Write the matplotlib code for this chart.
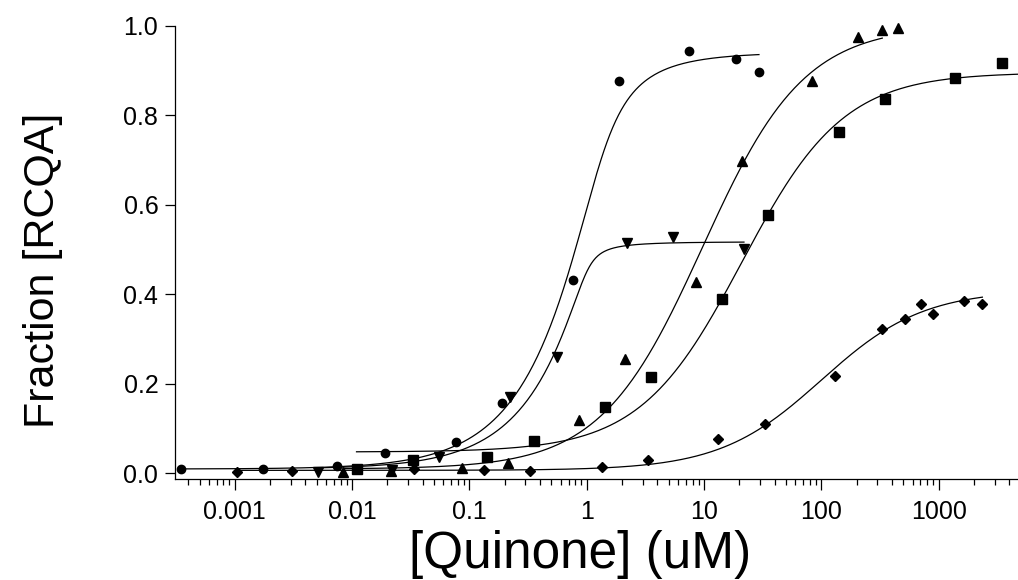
import numpy as np
import matplotlib.pyplot as plt
from matplotlib.ticker import FixedLocator, FixedFormatter, LogLocator, NullFormatter

plt.rcParams['font.family'] = ['Liberation Sans', 'DejaVu Sans']

# measured points, quinone concentration in uM
circle_x = [0.00035, 0.00175, 0.0075, 0.0191, 0.0764, 0.19, 0.76, 1.88, 7.5, 18.6, 29.4]
circle_y = [0.010, 0.011, 0.017, 0.046, 0.071, 0.158, 0.433, 0.877, 0.944, 0.925, 0.897]

down_x = [0.00515, 0.0218, 0.0554, 0.222, 0.555, 2.19, 5.47, 21.9]
down_y = [0.004, 0.008, 0.036, 0.171, 0.259, 0.515, 0.529, 0.500]

up_x = [0.0084, 0.0215, 0.0859, 0.215, 0.86, 2.12, 8.5, 20.9, 83.8, 207, 331, 454]
up_y = [0.003, 0.006, 0.012, 0.023, 0.119, 0.255, 0.428, 0.698, 0.876, 0.974, 0.990, 0.994]

square_x = [0.0109, 0.0329, 0.140, 0.356, 1.43, 3.53, 14.2, 34.9, 141.6, 349, 1380, 3450]
square_y = [0.009, 0.030, 0.036, 0.073, 0.148, 0.216, 0.389, 0.578, 0.763, 0.835, 0.882, 0.917]

diamond_x = [0.00104, 0.0031, 0.0337, 0.134, 0.329, 1.34, 3.35, 13.2, 33.1, 131, 327, 517, 713, 902, 1648, 2360]
diamond_y = [0.004, 0.006, 0.009, 0.008, 0.006, 0.015, 0.030, 0.076, 0.110, 0.218, 0.322, 0.345, 0.378, 0.356, 0.386, 0.378]

# fit parameters: bottom, amplitude, total RC (uM), Kd (uM), x range of the drawn fit
fit_bottom = [0.010, 0.010, 0.010, 0.048, 0.007]
fit_amp = [0.93, 0.507, 0.99, 0.847, 0.403]
fit_total = [1.2, 1.0, 0.0, 0.0, 0.0]
fit_kd = [0.15, 0.02, 9.7, 21.0, 100.0]
fit_start = [0.00035, 0.00515, 0.0084, 0.0109, 0.00104]
fit_end = [29.4, 21.9, 331, 4750, 2360]

tick_vals = [0.001, 0.01, 0.1, 1, 10, 100, 1000]
tick_text = ['0.001', '0.01', '0.1', '1', '10', '100', '1000']


def bound_fraction(conc, total, kd):
    # quadratic (tight binding) isotherm, hyperbolic when total = 0
    s = total + conc + kd
    return 2 * conc / (s + np.sqrt(s ** 2 - 4 * total * conc))


fig = plt.figure(figsize=(10.18, 5.8), dpi=100)
ax = fig.add_axes([175 / 1018, 101 / 580, 843 / 1018, 453.5 / 580])

for i in range(5):
    xs = np.logspace(np.log10(fit_start[i]), np.log10(fit_end[i]), 400)
    ys = fit_bottom[i] + fit_amp[i] * bound_fraction(xs, fit_total[i], fit_kd[i])
    ax.plot(xs, ys, color='black', lw=0.9, clip_on=False)

mk = dict(color='black', ls='none', clip_on=False, zorder=3)
ax.plot(circle_x, circle_y, marker='o', ms=6.0, **mk)
ax.plot(down_x, down_y, marker='v', ms=6.5, **mk)
ax.plot(up_x, up_y, marker='^', ms=6.5, **mk)
ax.plot(square_x, square_y, marker='s', ms=6.5, **mk)
ax.plot(diamond_x, diamond_y, marker='D', ms=5.0, **mk)

ax.set_xscale('log')
ax.set_xlim(3.09e-4, 4750)
ax.set_ylim(-0.0123, 1.0)

ax.xaxis.set_major_locator(FixedLocator(tick_vals))
ax.xaxis.set_major_formatter(FixedFormatter(tick_text))
ax.xaxis.set_minor_locator(LogLocator(base=10, subs=np.arange(2, 10), numticks=20))
ax.xaxis.set_minor_formatter(NullFormatter())
ax.set_yticks([0.0, 0.2, 0.4, 0.6, 0.8, 1.0])
ax.set_yticklabels(['0.0', '0.2', '0.4', '0.6', '0.8', '1.0'])

for s in ['top', 'right']:
    ax.spines[s].set_visible(False)
for s in ['left', 'bottom']:
    ax.spines[s].set_linewidth(0.9)

ax.tick_params(axis='x', which='major', length=8, width=0.9, labelsize=18, pad=7)
ax.tick_params(axis='x', which='minor', length=4.3, width=0.9)
ax.tick_params(axis='y', which='major', length=7, width=0.9, labelsize=18, pad=5)

ax.set_xlabel('[Quinone] (uM)', fontsize=37)
ax.xaxis.set_label_coords(0.48, -0.112)
ax.set_ylabel('Fraction [RCQA]', fontsize=31)
ax.yaxis.set_label_coords(-0.133, 0.46)

fig.savefig('out.png', dpi=100)
